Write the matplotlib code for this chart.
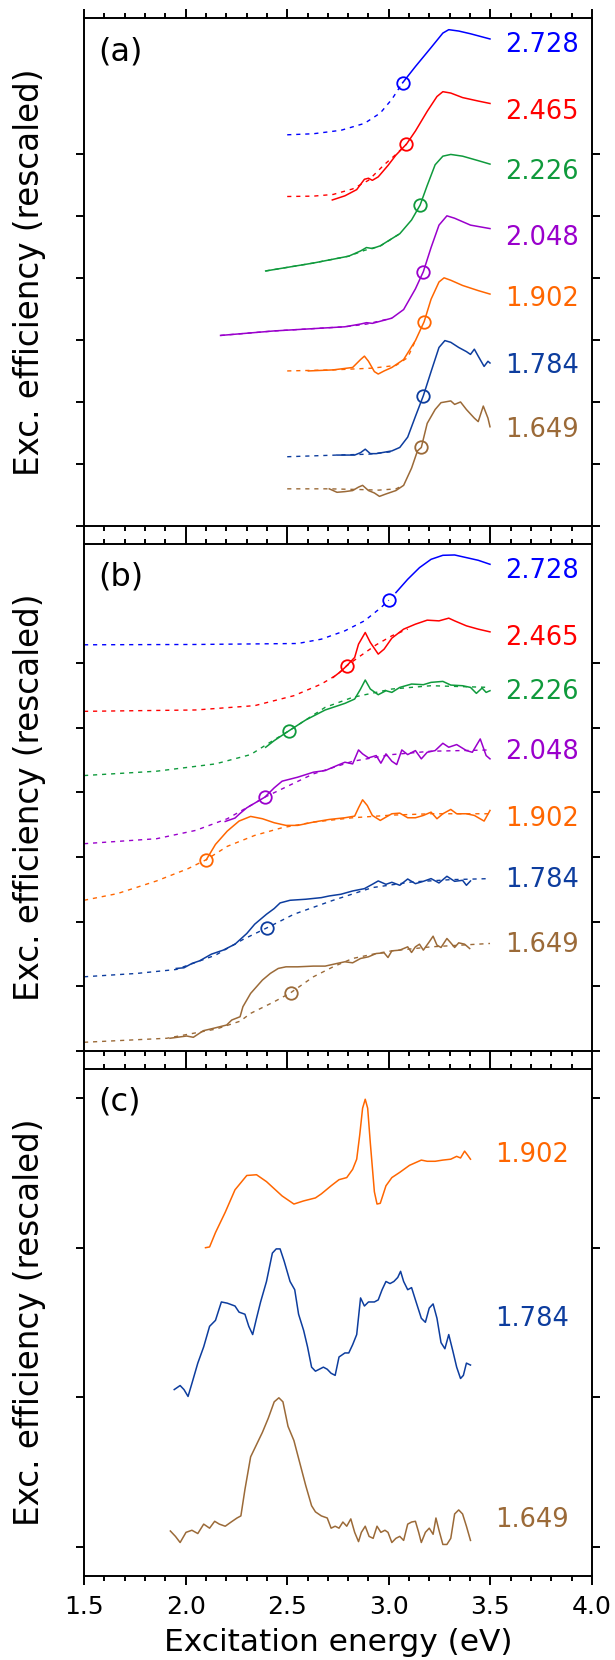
import matplotlib.pyplot as plt
from matplotlib.ticker import MultipleLocator

plt.rcParams['font.family'] = ['DejaVu Sans']

# colours / labels (emission energy in eV)
labels = ['2.728', '2.465', '2.226', '2.048', '1.902', '1.784', '1.649']
colors = ['#0000ff', '#ff0000', '#0f9a3c', '#9a00cc', '#ff6600', '#0d3d9e', '#9b6a38']

# ---------------- panel (a) ----------------
a2728_fit_x = [2.5, 2.629, 2.765, 2.880, 2.958, 3.015, 3.068]
a2728_fit_y = [6.316, 6.333, 6.389, 6.5, 6.667, 6.889, 7.156]
a2728_exp_x = [3.068, 3.131, 3.208, 3.266, 3.295, 3.344, 3.402, 3.498]
a2728_exp_y = [7.156, 7.418, 7.724, 7.958, 8.013, 7.991, 7.947, 7.863]

a2465_fit_x = [2.5, 2.629, 2.726, 2.822, 2.900, 2.977, 3.035, 3.087]
a2465_fit_y = [5.320, 5.326, 5.353, 5.442, 5.581, 5.832, 5.999, 6.166]
a2465_exp_x = [2.722, 2.784, 2.842, 2.880, 2.900, 2.919, 2.948, 2.996, 3.035, 3.087, 3.131,
               3.189, 3.237, 3.266, 3.305, 3.363, 3.440, 3.498]
a2465_exp_y = [5.264, 5.331, 5.431, 5.598, 5.615, 5.581, 5.637, 5.821, 5.988, 6.166, 6.377,
               6.695, 6.934, 7.012, 6.990, 6.917, 6.861, 6.822]

a2226_fit_x = [2.394, 2.629, 2.803, 2.880, 2.958, 3.054]
a2226_fit_y = [4.118, 4.246, 4.357, 4.450, 4.520, 4.719]
a2226_exp_x = [2.394, 2.629, 2.803, 2.861, 2.890, 2.919, 2.958, 3.054, 3.112, 3.154, 3.189,
               3.228, 3.266, 3.305, 3.363, 3.440, 3.498]
a2226_exp_y = [4.118, 4.246, 4.357, 4.441, 4.496, 4.480, 4.524, 4.719, 4.941, 5.181, 5.498,
               5.832, 5.971, 5.999, 5.971, 5.899, 5.843]

a2048_fit_x = [2.172, 2.436, 2.784, 2.890, 3.015]
a2048_fit_y = [3.077, 3.150, 3.217, 3.260, 3.356]
a2048_exp_x = [2.172, 2.436, 2.784, 2.861, 2.890, 2.919, 3.015, 3.073, 3.131, 3.170, 3.208,
               3.247, 3.286, 3.324, 3.402, 3.498]
a2048_exp_y = [3.077, 3.150, 3.217, 3.261, 3.283, 3.272, 3.356, 3.495, 3.829, 4.107, 4.496,
               4.858, 5.008, 4.969, 4.858, 4.802]

a1902_fit_x = [2.5, 2.726, 2.919, 3.035, 3.093, 3.131]
a1902_fit_y = [2.504, 2.521, 2.549, 2.593, 2.720, 2.994]
a1902_exp_x = [2.604, 2.726, 2.822, 2.861, 2.880, 2.900, 2.929, 2.948, 2.977, 3.015, 3.073,
               3.131, 3.174, 3.208, 3.247, 3.272, 3.305, 3.363, 3.440, 3.498]
a1902_exp_y = [2.504, 2.521, 2.560, 2.688, 2.743, 2.660, 2.493, 2.454, 2.504, 2.560, 2.688,
               2.994, 3.300, 3.662, 3.940, 4.007, 3.968, 3.884, 3.801, 3.745]

a1784_fit_x = [2.5, 2.745, 2.900, 3.015]
a1784_fit_y = [1.119, 1.146, 1.160, 1.200]
a1784_exp_x = [2.745, 2.832, 2.861, 2.884, 2.909, 2.938, 3.015, 3.054, 3.093, 3.131, 3.170,
               3.208, 3.247, 3.276, 3.305, 3.344, 3.382, 3.402, 3.421, 3.440, 3.469, 3.488, 3.498]
a1784_exp_y = [1.146, 1.146, 1.185, 1.241, 1.169, 1.169, 1.213, 1.269, 1.436, 1.770, 2.104,
               2.493, 2.883, 2.994, 2.966, 2.883, 2.816, 2.771, 2.855, 2.743, 2.577, 2.660, 2.632]

a1649_fit_x = [2.5, 2.707, 2.850, 2.950, 3.035, 3.073]
a1649_fit_y = [0.601, 0.601, 0.590, 0.580, 0.600, 0.660]
a1649_exp_x = [2.707, 2.745, 2.784, 2.822, 2.851, 2.871, 2.900, 2.929, 2.954, 2.986, 3.035,
               3.073, 3.112, 3.141, 3.160, 3.189, 3.228, 3.257, 3.305, 3.324, 3.353, 3.382,
               3.421, 3.440, 3.465, 3.488, 3.498]
a1649_exp_y = [0.601, 0.545, 0.556, 0.573, 0.629, 0.657, 0.573, 0.534, 0.479, 0.518, 0.573,
               0.657, 0.935, 1.213, 1.269, 1.658, 1.881, 1.992, 2.020, 1.964, 2.003, 1.881,
               1.742, 1.686, 1.937, 1.742, 1.603]

a_circle_x = [3.068, 3.087, 3.154, 3.170, 3.174, 3.170, 3.160]
a_circle_y = [7.156, 6.166, 5.181, 4.107, 3.300, 2.104, 1.269]
a_label_y = [7.77, 6.68, 5.71, 4.65, 3.66, 2.58, 1.55]

# ---------------- panel (b) ----------------
b2728_fit_x = [1.5, 2.050, 2.552, 2.668, 2.784, 2.880, 2.958, 3.0]
b2728_fit_y = [6.281, 6.286, 6.301, 6.368, 6.497, 6.651, 6.847, 6.970]
b2728_exp_x = [3.035, 3.093, 3.151, 3.208, 3.266, 3.324, 3.382, 3.440, 3.498]
b2728_exp_y = [7.088, 7.294, 7.474, 7.603, 7.665, 7.670, 7.629, 7.588, 7.526]

b2465_fit_x = [1.5, 2.050, 2.340, 2.533, 2.668, 2.745, 2.793, 2.861, 2.938, 3.015, 3.093]
b2465_fit_y = [5.252, 5.273, 5.340, 5.494, 5.674, 5.818, 5.957, 6.111, 6.281, 6.420, 6.523]
b2465_exp_x = [2.726, 2.764, 2.793, 2.832, 2.851, 2.884, 2.909, 2.948, 2.977, 3.015, 3.073,
               3.131, 3.189, 3.247, 3.295, 3.324, 3.382, 3.440, 3.498]
b2465_exp_y = [5.777, 5.869, 5.957, 6.085, 6.291, 6.471, 6.317, 6.137, 6.214, 6.384, 6.523,
               6.600, 6.662, 6.651, 6.693, 6.651, 6.574, 6.523, 6.481]

b2226_fit_x = [1.5, 1.857, 2.147, 2.320, 2.398, 2.510, 2.687, 2.822, 3.015, 3.208, 3.498]
b2226_fit_y = [4.259, 4.326, 4.439, 4.583, 4.738, 4.954, 5.314, 5.468, 5.597, 5.648, 5.622]
b2226_exp_x = [2.394, 2.436, 2.510, 2.591, 2.687, 2.784, 2.832, 2.861, 2.884, 2.909, 2.948,
               2.986, 3.015, 3.054, 3.112, 3.170, 3.208, 3.266, 3.305, 3.363, 3.402, 3.431,
               3.459, 3.479, 3.498]
b2226_exp_y = [4.696, 4.799, 4.954, 5.118, 5.273, 5.375, 5.442, 5.597, 5.736, 5.597, 5.509,
               5.571, 5.545, 5.622, 5.674, 5.664, 5.700, 5.715, 5.658, 5.648, 5.622, 5.530,
               5.612, 5.545, 5.571]

b2048_fit_x = [1.5, 1.857, 2.050, 2.205, 2.320, 2.390, 2.475, 2.629, 2.822, 3.015, 3.208, 3.498]
b2048_fit_y = [3.205, 3.282, 3.411, 3.591, 3.796, 3.925, 4.053, 4.285, 4.480, 4.583, 4.635, 4.655]
b2048_exp_x = [2.195, 2.243, 2.266, 2.301, 2.340, 2.390, 2.436, 2.475, 2.552, 2.629, 2.687,
               2.745, 2.784, 2.822, 2.851, 2.871, 2.900, 2.938, 2.961, 2.986, 3.015, 3.039,
               3.064, 3.093, 3.131, 3.160, 3.189, 3.228, 3.266, 3.295, 3.334, 3.382, 3.411,
               3.450, 3.479, 3.498]
b2048_exp_y = [3.549, 3.601, 3.668, 3.760, 3.832, 3.925, 4.069, 4.172, 4.234, 4.311, 4.336,
               4.414, 4.465, 4.439, 4.655, 4.594, 4.532, 4.568, 4.450, 4.594, 4.480, 4.429,
               4.655, 4.583, 4.645, 4.517, 4.619, 4.645, 4.758, 4.697, 4.738, 4.645, 4.619,
               4.825, 4.568, 4.517]

b1902_fit_x = [1.5, 1.664, 1.857, 2.012, 2.102, 2.205, 2.340, 2.475, 2.629, 2.822, 3.015,
               3.208, 3.498]
b1902_fit_y = [2.330, 2.433, 2.629, 2.819, 2.958, 3.164, 3.333, 3.452, 3.539, 3.606, 3.647,
               3.668, 3.668]
b1902_exp_x = [2.102, 2.147, 2.205, 2.263, 2.320, 2.378, 2.436, 2.494, 2.552, 2.629, 2.707,
               2.784, 2.832, 2.851, 2.871, 2.894, 2.919, 2.958, 2.986, 3.015, 3.054, 3.093,
               3.131, 3.170, 3.208, 3.237, 3.266, 3.305, 3.334, 3.382, 3.421, 3.469, 3.498]
b1902_exp_y = [2.958, 3.194, 3.400, 3.555, 3.627, 3.591, 3.529, 3.488, 3.488, 3.539, 3.580,
               3.606, 3.632, 3.760, 3.884, 3.796, 3.642, 3.565, 3.616, 3.668, 3.678, 3.606,
               3.606, 3.642, 3.693, 3.591, 3.668, 3.735, 3.668, 3.668, 3.642, 3.555, 3.719]

b1784_fit_x = [1.5, 1.761, 1.954, 2.147, 2.282, 2.403, 2.533, 2.726, 2.919, 3.112, 3.305, 3.498]
b1784_fit_y = [1.147, 1.199, 1.260, 1.481, 1.723, 1.908, 2.114, 2.330, 2.526, 2.613, 2.649, 2.665]
b1784_exp_x = [1.954, 1.992, 2.031, 2.069, 2.127, 2.185, 2.243, 2.301, 2.340, 2.398, 2.436,
               2.465, 2.514, 2.591, 2.668, 2.707, 2.764, 2.822, 2.880, 2.919, 2.948, 2.986,
               3.015, 3.054, 3.093, 3.131, 3.170, 3.208, 3.247, 3.286, 3.324, 3.363, 3.382, 3.402]
b1784_exp_y = [1.276, 1.286, 1.353, 1.394, 1.497, 1.559, 1.651, 1.816, 1.960, 2.114, 2.202,
               2.289, 2.330, 2.346, 2.371, 2.397, 2.423, 2.474, 2.510, 2.577, 2.629, 2.577,
               2.608, 2.562, 2.659, 2.587, 2.623, 2.665, 2.598, 2.701, 2.623, 2.639, 2.562, 2.629]

b1649_fit_x = [1.5, 1.907, 2.152, 2.268, 2.320, 2.436, 2.517, 2.629, 2.726, 2.822, 2.938,
               3.015, 3.208, 3.498]
b1649_fit_y = [0.134, 0.196, 0.340, 0.460, 0.581, 0.761, 0.900, 1.147, 1.301, 1.430, 1.507,
               1.548, 1.610, 1.662]
b1649_exp_x = [1.923, 2.005, 2.038, 2.087, 2.137, 2.202, 2.227, 2.268, 2.282, 2.320, 2.378,
               2.417, 2.456, 2.494, 2.552, 2.629, 2.687, 2.745, 2.784, 2.822, 2.861, 2.900,
               2.938, 2.977, 2.996, 3.015, 3.054, 3.093, 3.112, 3.131, 3.151, 3.170, 3.199,
               3.218, 3.237, 3.257, 3.286, 3.305, 3.324, 3.344, 3.373, 3.398]
b1649_exp_y = [0.196, 0.231, 0.211, 0.313, 0.350, 0.401, 0.478, 0.529, 0.684, 0.890, 1.096,
               1.199, 1.276, 1.301, 1.301, 1.312, 1.312, 1.353, 1.379, 1.363, 1.430, 1.456,
               1.507, 1.517, 1.445, 1.548, 1.559, 1.610, 1.523, 1.610, 1.651, 1.559, 1.687,
               1.775, 1.636, 1.600, 1.739, 1.672, 1.600, 1.672, 1.651, 1.584]

b_circle_x = [3.0, 2.793, 2.510, 2.390, 2.102, 2.403, 2.517]
b_circle_y = [6.970, 5.957, 4.954, 3.925, 2.958, 1.908, 0.900]
b_label_y = [7.42, 6.39, 5.545, 4.62, 3.59, 2.64, 1.636]

# ---------------- panel (c) ----------------
c1902_x = [2.098, 2.118, 2.147, 2.195, 2.243, 2.301, 2.349, 2.398, 2.475, 2.533, 2.581,
           2.639, 2.668, 2.716, 2.755, 2.793, 2.822, 2.842, 2.857, 2.871, 2.884, 2.896,
           2.909, 2.929, 2.942, 2.958, 2.986, 3.015, 3.054, 3.102, 3.160, 3.189, 3.228,
           3.266, 3.305, 3.334, 3.353, 3.373, 3.388, 3.402]
c1902_y = [1.999, 2.004, 2.100, 2.236, 2.386, 2.482, 2.487, 2.441, 2.345, 2.291, 2.312,
           2.332, 2.359, 2.413, 2.454, 2.468, 2.523, 2.591, 2.754, 2.932, 2.992, 2.932,
           2.700, 2.373, 2.291, 2.296, 2.413, 2.468, 2.503, 2.550, 2.585, 2.577, 2.577,
           2.585, 2.591, 2.610, 2.599, 2.645, 2.618, 2.591]

c1784_x = [1.944, 1.973, 1.992, 2.012, 2.031, 2.060, 2.089, 2.118, 2.147, 2.176, 2.205,
           2.243, 2.263, 2.292, 2.311, 2.330, 2.349, 2.369, 2.398, 2.427, 2.446, 2.465,
           2.485, 2.514, 2.537, 2.556, 2.581, 2.600, 2.620, 2.639, 2.658, 2.678, 2.697,
           2.716, 2.736, 2.755, 2.784, 2.803, 2.822, 2.842, 2.861, 2.880, 2.900, 2.929,
           2.948, 2.967, 2.986, 3.006, 3.025, 3.044, 3.058, 3.073, 3.093, 3.112, 3.131,
           3.160, 3.180, 3.199, 3.218, 3.237, 3.257, 3.276, 3.295, 3.315, 3.334, 3.353,
           3.367, 3.382, 3.402]
c1784_y = [1.050, 1.077, 1.050, 1.004, 1.091, 1.227, 1.336, 1.473, 1.513, 1.636, 1.628,
           1.609, 1.568, 1.554, 1.473, 1.418, 1.527, 1.636, 1.773, 1.963, 1.991, 1.991,
           1.909, 1.773, 1.718, 1.554, 1.445, 1.336, 1.200, 1.173, 1.186, 1.200, 1.186,
           1.159, 1.145, 1.268, 1.295, 1.295, 1.350, 1.418, 1.663, 1.609, 1.636, 1.636,
           1.650, 1.718, 1.773, 1.759, 1.773, 1.800, 1.841, 1.773, 1.718, 1.732, 1.650,
           1.527, 1.500, 1.595, 1.623, 1.527, 1.364, 1.323, 1.418, 1.309, 1.200, 1.124,
           1.145, 1.227, 1.214]

c1649_x = [1.925, 1.950, 1.973, 2.002, 2.031, 2.060, 2.089, 2.118, 2.143, 2.166, 2.195,
           2.224, 2.253, 2.272, 2.292, 2.320, 2.349, 2.378, 2.407, 2.436, 2.459, 2.479,
           2.504, 2.533, 2.562, 2.591, 2.620, 2.639, 2.668, 2.697, 2.716, 2.736, 2.755,
           2.774, 2.793, 2.813, 2.832, 2.851, 2.865, 2.884, 2.903, 2.923, 2.942, 2.961,
           2.981, 2.996, 3.015, 3.035, 3.054, 3.073, 3.093, 3.112, 3.131, 3.147, 3.160,
           3.180, 3.199, 3.218, 3.232, 3.247, 3.266, 3.286, 3.305, 3.324, 3.344, 3.363,
           3.382, 3.402]
c1649_y = [0.104, 0.068, 0.027, 0.095, 0.109, 0.087, 0.150, 0.123, 0.169, 0.150, 0.136,
           0.164, 0.191, 0.205, 0.382, 0.600, 0.682, 0.764, 0.859, 0.968, 0.995, 0.968,
           0.804, 0.709, 0.559, 0.409, 0.273, 0.232, 0.205, 0.191, 0.123, 0.136, 0.123,
           0.164, 0.136, 0.185, 0.095, 0.033, 0.095, 0.136, 0.068, 0.055, 0.136, 0.095,
           0.109, 0.095, 0.027, 0.055, 0.068, 0.041, 0.150, 0.164, 0.169, 0.095, 0.027,
           0.095, 0.123, 0.082, 0.191, 0.109, 0.014, 0.014, 0.055, 0.218, 0.245, 0.218,
           0.136, 0.041]

c_labels = ['1.902', '1.784', '1.649']
c_colors = ['#ff6600', '#0d3d9e', '#9b6a38']
c_label_y = [2.62, 1.52, 0.18]

a_series = [
    (a2728_fit_x, a2728_fit_y, a2728_exp_x, a2728_exp_y),
    (a2465_fit_x, a2465_fit_y, a2465_exp_x, a2465_exp_y),
    (a2226_fit_x, a2226_fit_y, a2226_exp_x, a2226_exp_y),
    (a2048_fit_x, a2048_fit_y, a2048_exp_x, a2048_exp_y),
    (a1902_fit_x, a1902_fit_y, a1902_exp_x, a1902_exp_y),
    (a1784_fit_x, a1784_fit_y, a1784_exp_x, a1784_exp_y),
    (a1649_fit_x, a1649_fit_y, a1649_exp_x, a1649_exp_y),
]
b_series = [
    (b2728_fit_x, b2728_fit_y, b2728_exp_x, b2728_exp_y),
    (b2465_fit_x, b2465_fit_y, b2465_exp_x, b2465_exp_y),
    (b2226_fit_x, b2226_fit_y, b2226_exp_x, b2226_exp_y),
    (b2048_fit_x, b2048_fit_y, b2048_exp_x, b2048_exp_y),
    (b1902_fit_x, b1902_fit_y, b1902_exp_x, b1902_exp_y),
    (b1784_fit_x, b1784_fit_y, b1784_exp_x, b1784_exp_y),
    (b1649_fit_x, b1649_fit_y, b1649_exp_x, b1649_exp_y),
]

fig = plt.figure(figsize=(6.15, 16.6), dpi=100)
ax_a = fig.add_axes([0.1366, 0.6831, 0.8260, 0.3060])
ax_b = fig.add_axes([0.1366, 0.3669, 0.8260, 0.3054])
ax_c = fig.add_axes([0.1366, 0.0506, 0.8260, 0.3054])

DASH = (0, (3, 3.5))


def style(ax, ylim, yticks, letter, show_x):
    ax.set_xlim(1.5, 4.0)
    ax.set_ylim(*ylim)
    ax.xaxis.set_major_locator(MultipleLocator(0.5))
    ax.xaxis.set_minor_locator(MultipleLocator(0.1))
    ax.set_yticks(yticks)
    ax.tick_params(axis='x', which='both', direction='out', top=True, bottom=True,
                   labelbottom=show_x, width=1.4, labelsize=18, pad=7)
    ax.tick_params(axis='x', which='major', length=6.5)
    ax.tick_params(axis='x', which='minor', length=3.6)
    ax.tick_params(axis='y', which='both', direction='out', left=True, right=True,
                   labelleft=False, length=6, width=1.4)
    for s in ax.spines.values():
        s.set_linewidth(1.4)
    ax.text(0.028, 0.934, letter, transform=ax.transAxes, fontsize=23,
            ha='left', va='center')
    ax.set_ylabel('Exc. efficiency (rescaled)', fontsize=23.5)
    ax.yaxis.set_label_coords(-0.075, 0.5)


for ax, series, cx, cy, ly in [(ax_a, a_series, a_circle_x, a_circle_y, a_label_y),
                               (ax_b, b_series, b_circle_x, b_circle_y, b_label_y)]:
    for (fx, fy, ex, ey), col, lab, x0, y0, yl in zip(series, colors, labels, cx, cy, ly):
        ax.plot(fx, fy, color=col, lw=1.0, linestyle=DASH)
        ax.plot(ex, ey, color=col, lw=1.1)
        ax.plot(x0, y0, 'o', mfc='none', mec=col, mew=1.3, ms=9)
        ax.text(3.572, yl, lab, color=col, fontsize=18.5, ha='left', va='center')

for xs, ys, col, lab, yl in zip([c1902_x, c1784_x, c1649_x], [c1902_y, c1784_y, c1649_y],
                                c_colors, c_labels, c_label_y):
    ax_c.plot(xs, ys, color=col, lw=1.1)
    ax_c.text(3.523, yl, lab, color=col, fontsize=18.5, ha='left', va='center')

style(ax_a, (0, 8.2), range(0, 7), '(a)', False)
style(ax_b, (0, 7.84), range(0, 7), '(b)', False)
style(ax_c, (-0.197, 3.194), range(0, 4), '(c)', True)

ax_c.set_xlabel('Excitation energy (eV)', fontsize=22.5)
ax_c.xaxis.set_label_coords(0.5, -0.103)

fig.savefig('out.png', dpi=100)
